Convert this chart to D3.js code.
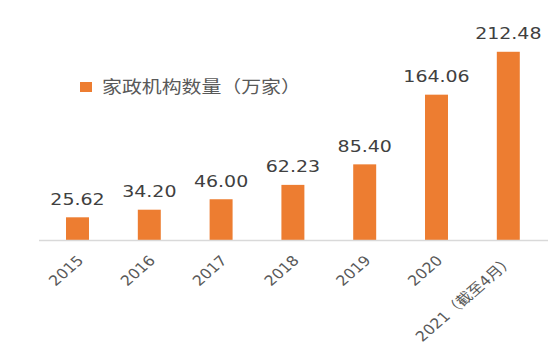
<html><head>
<script src="https://d3js.org/d3.v7.min.js"></script>
<style>
  body { margin: 0; background: #fff; }
  text { font-family: "DejaVu Sans", "Noto Sans CJK SC", sans-serif; }
</style>
</head>
<body>
<svg id="chart" width="550" height="350"></svg>
<script>
  // data
  const years = ["2015", "2016", "2017", "2018", "2019", "2020", "2021（截至4月）"];
  const counts = [25.62, 34.20, 46.00, 62.23, 85.40, 164.06, 212.48];
  const seriesName = "家政机构数量（万家）";

  const svg = d3.select("#chart");
  const barColor = "#ED7D31";
  const stretch = 1.15; // the source picture's text looks a bit wide

  const x = d3.scaleBand().domain(years).range([41.6, 544.2]).paddingInner(0.68).paddingOuter(0.34);
  const y = d3.scaleLinear().domain([0, 240]).range([240, 27.4]);

  const rows = years.map((yr, i) => ({ year: yr, value: counts[i] }));
  const cx = d => x(d.year) + x.bandwidth() / 2;

  // bars
  svg.selectAll("rect.bar").data(rows)
    .join("rect")
    .attr("class", "bar")
    .attr("x", d => x(d.year))
    .attr("y", d => y(d.value))
    .attr("width", x.bandwidth())
    .attr("height", d => y(0) - y(d.value))
    .attr("fill", barColor);

  // baseline
  svg.append("line")
    .attr("x1", 39).attr("x2", 548)
    .attr("y1", y(0) + 0.5).attr("y2", y(0) + 0.5)
    .attr("stroke", "#d9d9d9").attr("stroke-width", 1.5);

  // value labels
  svg.selectAll("text.val").data(rows)
    .join("text")
    .attr("class", "val")
    .attr("transform", d => `translate(${cx(d)},${y(d.value) - 12.5}) scale(${stretch},1)`)
    .attr("text-anchor", "middle")
    .attr("font-size", 16.5)
    .attr("fill", "#404040")
    .text(d => d.value.toFixed(2));

  // rotated category labels
  svg.selectAll("text.tick").data(rows)
    .join("text")
    .attr("class", "tick")
    .attr("transform", d => `translate(${cx(d) + 3},${y(0) + 18}) scale(${stretch},1) rotate(-45)`)
    .attr("text-anchor", "end")
    .attr("dy", "0.35em")
    .attr("font-size", 14)
    .attr("fill", "#595959")
    .text(d => d.year);

  // legend
  const legend = svg.append("g").attr("transform", "translate(80,82)");
  legend.append("rect").attr("width", 12).attr("height", 10).attr("fill", barColor);
  legend.append("text")
    .attr("transform", `translate(22,5) scale(1.17,1)`)
    .attr("dy", "0.35em")
    .attr("font-size", 17)
    .attr("font-family", "'Noto Sans CJK SC', sans-serif")
    .attr("fill", "#595959")
    .text(seriesName);
</script>
</body>
</html>
